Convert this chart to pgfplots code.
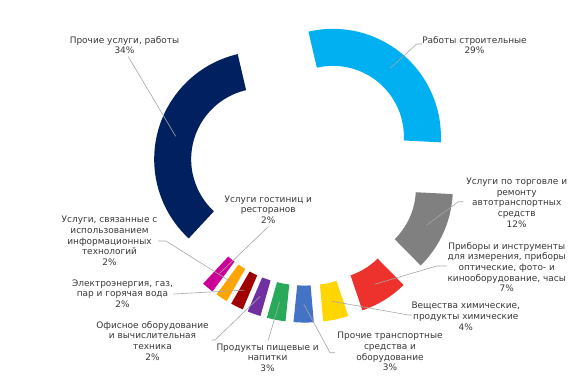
\documentclass[border=0pt]{standalone}
\usepackage{pgfplots}
\pgfplotsset{compat=1.18}
\usepackage{pgfplotstable}
\usepackage{fontspec}
\setmainfont{DejaVu Sans}

\definecolor{slice0}{RGB}{0,176,240}
\definecolor{slice1}{RGB}{128,128,128}
\definecolor{slice2}{RGB}{237,50,46}
\definecolor{slice3}{RGB}{255,214,0}
\definecolor{slice4}{RGB}{68,114,196}
\definecolor{slice5}{RGB}{40,170,90}
\definecolor{slice6}{RGB}{112,48,160}
\definecolor{slice7}{RGB}{160,0,0}
\definecolor{slice8}{RGB}{255,165,0}
\definecolor{slice9}{RGB}{204,0,153}
\definecolor{slice10}{RGB}{0,32,96}

% share of each slice (percent), clockwise from the top
\pgfplotstableread{
val
29.45
11.8
7.2
3.8
3.0
2.8
2.0
1.9
1.8
1.8
34.45
}\slices

\def\Ox{304.7}\def\Oy{205.4}
\def\Ro{108}\def\Ri{71}\def\Rm{89.5}\def\Ex{44}
\def\startang{103.1}

\xdef\curang{\startang}
\foreach \i in {0,...,10}{%
  \pgfplotstablegetelem{\i}{val}\of\slices
  \pgfmathsetmacro\aone{\curang}%
  \pgfmathsetmacro\atwo{\curang-3.6*\pgfplotsretval}%
  \pgfmathsetmacro\amid{(\aone+\atwo)/2}%
  \pgfmathsetmacro\cx{\Ox+\Ex*cos(\amid)}%
  \pgfmathsetmacro\cy{\Oy+\Ex*sin(\amid)}%
  \pgfmathsetmacro\ox{\cx+\Ro*cos(\aone)}%
  \pgfmathsetmacro\oy{\cy+\Ro*sin(\aone)}%
  \pgfmathsetmacro\ix{\cx+\Ri*cos(\atwo)}%
  \pgfmathsetmacro\iy{\cy+\Ri*sin(\atwo)}%
  \pgfmathsetmacro\mx{\cx+\Rm*cos(\amid)}%
  \pgfmathsetmacro\my{\cy+\Rm*sin(\amid)}%
  \expandafter\xdef\csname aone\i\endcsname{\aone}%
  \expandafter\xdef\csname atwo\i\endcsname{\atwo}%
  \expandafter\xdef\csname ox\i\endcsname{\ox}%
  \expandafter\xdef\csname oy\i\endcsname{\oy}%
  \expandafter\xdef\csname ix\i\endcsname{\ix}%
  \expandafter\xdef\csname iy\i\endcsname{\iy}%
  \expandafter\xdef\csname mx\i\endcsname{\mx}%
  \expandafter\xdef\csname my\i\endcsname{\my}%
  \xdef\curang{\atwo}%
}
\newcommand\M[1]{(axis cs:\csname mx#1\endcsname,\csname my#1\endcsname)}
\tikzset{lbl/.style={font=\fontsize{9}{10.7}\selectfont, align=center, inner sep=0pt, text=black!78, anchor=north},
  leader/.style={draw=black!35, line width=0.6bp}}

\begin{document}
\begin{tikzpicture}
\begin{axis}[scale only axis, width=580bp, height=376bp,
  xmin=0, xmax=580, ymin=0, ymax=376, hide axis, clip=false, disabledatascaling]
\path (axis cs:0,0) rectangle (axis cs:580,376);
\pgfplotsinvokeforeach{0,...,10}{
  \fill[slice#1] (axis cs:\csname ox#1\endcsname,\csname oy#1\endcsname)
     arc[start angle=\csname aone#1\endcsname, end angle=\csname atwo#1\endcsname, radius=\Ro]
     -- (axis cs:\csname ix#1\endcsname,\csname iy#1\endcsname)
     arc[start angle=\csname atwo#1\endcsname, end angle=\csname aone#1\endcsname, radius=\Ri]
     -- cycle;
}
% leader lines
\draw[leader] \M{10} -- (axis cs:128.3,319.3);
\draw[leader] \M{0} -- (axis cs:416.7,332) -- (axis cs:422.7,332);
\draw[leader] \M{1} -- (axis cs:458.3,174.3) -- (axis cs:463.3,174.3);
\draw[leader] \M{2} -- (axis cs:436.7,110) -- (axis cs:446.7,110);
\draw[leader] \M{3} -- (axis cs:408.3,61) -- (axis cs:411.7,61);
\draw[leader] \M{4} -- (axis cs:330,23.3) -- (axis cs:335,23.3);
\draw[leader] \M{5} -- (axis cs:268.3,36);
\draw[leader] \M{6} -- (axis cs:215,36) -- (axis cs:211.7,36);
\draw[leader] \M{7} -- (axis cs:173.3,82);
\draw[leader] \M{8} -- (axis cs:166,135) -- (axis cs:158.3,135);
\draw[leader] \M{9} -- (axis cs:268.3,149.3);
% labels
\node[lbl] at (axis cs:124.5,340) {Прочие услуги, работы\\34\%};
\node[lbl] at (axis cs:474.5,340) {Работы строительные\\29\%};
\node[lbl] at (axis cs:516.7,198.3) {Услуги по торговле и\\ремонту\\автотранспортных\\средств\\12\%};
\node[lbl] at (axis cs:506.7,134) {Приборы и инструменты\\для измерения, приборы\\оптические, фото- и\\кинооборудование, часы\\7\%};
\node[lbl] at (axis cs:465.8,74) {Вещества химические,\\продукты химические\\4\%};
\node[lbl] at (axis cs:390,44) {Прочие транспортные\\средства и\\оборудование\\3\%};
\node[lbl] at (axis cs:267.6,32.7) {Продукты пищевые и\\напитки\\3\%};
\node[lbl] at (axis cs:152.5,55) {Офисное оборудование\\и вычислительная\\техника\\2\%};
\node[lbl] at (axis cs:122.5,96.7) {Электроэнергия, газ,\\пар и горячая вода\\2\%};
\node[lbl] at (axis cs:109.5,160) {Услуги, связанные с\\использованием\\информационных\\технологий\\2\%};
\node[lbl] at (axis cs:268.3,180.7) {Услуги гостиниц и\\ресторанов\\2\%};
\end{axis}
\end{tikzpicture}
\end{document}
